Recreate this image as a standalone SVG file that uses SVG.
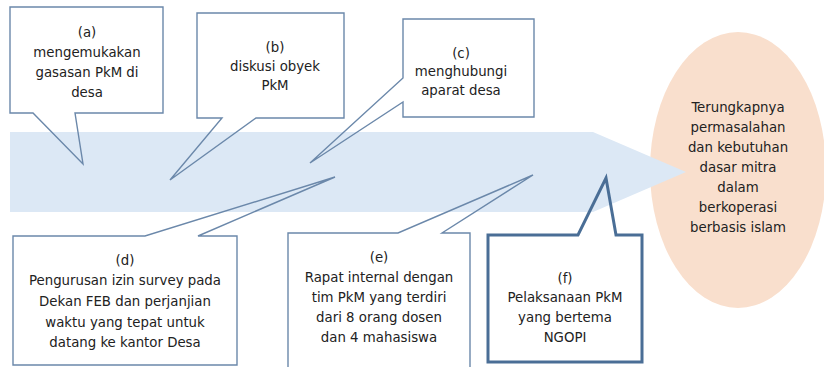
<svg xmlns="http://www.w3.org/2000/svg" width="824" height="367" viewBox="0 0 824 367">
<style>
  .co { fill: none; stroke: #6b88aa; stroke-width: 1.4; stroke-linejoin: miter; }
  .cof { fill: none; stroke: #4a6e96; stroke-width: 3; stroke-linejoin: miter; }
  text { font-family: "DejaVu Sans Condensed", "DejaVu Sans", sans-serif; font-stretch: condensed; font-size: 14.8px; fill: #222222; text-anchor: middle; }
</style>
<rect width="824" height="367" fill="#ffffff"/>
<g id="result">
  <ellipse cx="738" cy="170" rx="88" ry="138" fill="#f9dfcd"/>
</g>
<g id="flow-arrow">
  <polygon points="10,132 593,132 686,172 593,212 10,212" fill="#dce8f5"/>
</g>
<g id="result-text">
  <text x="738" y="112">Terungkapnya</text>
  <text x="738" y="132">permasalahan</text>
  <text x="738" y="152">dan kebutuhan</text>
  <text x="738" y="172">dasar mitra</text>
  <text x="738" y="192">dalam</text>
  <text x="738" y="212">berkoperasi</text>
  <text x="738" y="232">berbasis islam</text>
</g>
<g id="callout-a">
  <path class="co" d="M75,113 L163,113 L163,7 L10,7 L10,113 L33,113 L83,164 Z"/>
  <text x="87" y="37">(a)</text>
  <text x="87" y="57">mengemukakan</text>
  <text x="87" y="77">gasasan PkM di</text>
  <text x="87" y="97">desa</text>
</g>
<g id="callout-b">
  <path class="co" d="M256,118 L344,118 L344,13 L197,13 L197,118 L222,118 L170,180 Z"/>
  <text x="275" y="52">(b)</text>
  <text x="275" y="71">diskusi obyek</text>
  <text x="275" y="90">PkM</text>
</g>
<g id="callout-c">
  <path class="co" d="M403,102 L403,117 L534,117 L534,19 L403,19 L403,78 L310,163 Z"/>
  <text x="461" y="58">(c)</text>
  <text x="461" y="76">menghubungi</text>
  <text x="461" y="95">aparat desa</text>
</g>
<g id="callout-d">
  <path class="co" d="M145,236 L13,236 L13,365 L237,365 L237,236 L198,236 L335,177 Z"/>
  <text x="125" y="265">(d)</text>
  <text x="125" y="285">Pengurusan izin survey pada</text>
  <text x="125" y="306">Dekan FEB dan perjanjian</text>
  <text x="125" y="327">waktu yang tepat untuk</text>
  <text x="125" y="347">datang ke kantor Desa</text>
</g>
<g id="callout-e">
  <path class="co" d="M398,233 L288,233 L288,370 L470,370 L470,233 L442,233 L533,175 Z"/>
  <text x="379" y="262">(e)</text>
  <text x="379" y="282">Rapat internal dengan</text>
  <text x="379" y="302">tim PkM yang terdiri</text>
  <text x="379" y="322">dari 8 orang dosen</text>
  <text x="379" y="342">dan 4 mahasiswa</text>
</g>
<g id="callout-f">
  <path class="cof" d="M578,235 L488,235 L488,362 L642,362 L642,235 L616,235 L606,178 Z"/>
  <text x="565" y="283">(f)</text>
  <text x="565" y="302">Pelaksanaan PkM</text>
  <text x="565" y="322">yang bertema</text>
  <text x="565" y="342">NGOPI</text>
</g>
<g id="connectors"></g>
</svg>
